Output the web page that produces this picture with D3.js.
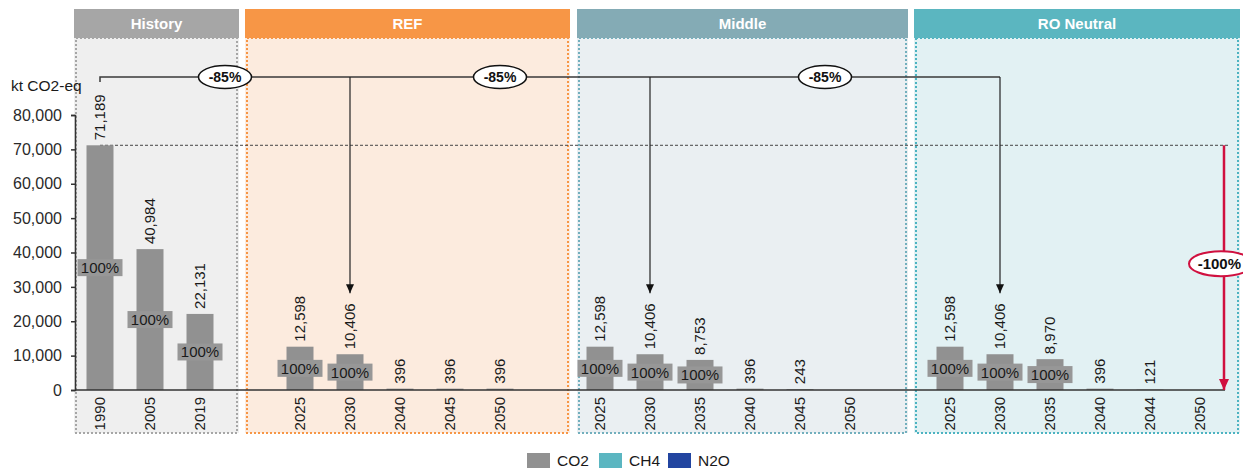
<!DOCTYPE html>
<html>
<head>
<meta charset="utf-8">
<script src="https://cdn.jsdelivr.net/npm/d3@7"></script>
<style>
  body { margin: 0; background: #fff; }
  svg { font-family: "Liberation Sans", Arial, sans-serif; }
</style>
</head>
<body>
<div id="chart"></div>
<script>
// values, kt CO2-eq
var historyYears = ["1990", "2005", "2019"];
var historyValues = [71189, 40984, 22131];
var historyShares = ["100%", "100%", "100%"];

var refYears = ["2025", "2030", "2040", "2045", "2050"];
var refValues = [12598, 10406, 396, 396, 396];
var refShares = ["100%", "100%", "", "", ""];

var middleYears = ["2025", "2030", "2035", "2040", "2045", "2050"];
var middleValues = [12598, 10406, 8753, 396, 243, 0];
var middleShares = ["100%", "100%", "100%", "", "", ""];

var neutralYears = ["2025", "2030", "2035", "2040", "2044", "2050"];
var neutralValues = [12598, 10406, 8970, 396, 121, 0];
var neutralShares = ["100%", "100%", "100%", "", "", ""];

var scenarioNames = ["History", "REF", "Middle", "RO Neutral"];
var yTicks = [0, 10000, 20000, 30000, 40000, 50000, 60000, 70000, 80000];
var yUnit = "kt CO2-eq";
var gasNames = ["CO2", "CH4", "N2O"];
var gasColors = ["#919191", "#5bb6c1", "#2245a0"];

// -85% from 1990 to 2030 in each scenario, -100% from 1990 to 2050
var baseKey = "History|1990";
var reductionTargets = ["REF|2030", "Middle|2030", "RO Neutral|2030"];
var reductionLabel = "-85%";
var totalReductionLabel = "-100%";

var sections = [
  { name: scenarioNames[0], years: historyYears, values: historyValues, shares: historyShares },
  { name: scenarioNames[1], years: refYears, values: refValues, shares: refShares },
  { name: scenarioNames[2], years: middleYears, values: middleValues, shares: middleShares },
  { name: scenarioNames[3], years: neutralYears, values: neutralValues, shares: neutralShares }
];

// panel look
var panelStyle = [
  { head: "#a6a6a6", fill: "#efefef", dot: "#a6a6a6" },
  { head: "#f79646", fill: "#fcebde", dot: "#f79646" },
  { head: "#84abb5", fill: "#eaeff2", dot: "#72afbd" },
  { head: "#5bb6c0", fill: "#e2f1f3", dot: "#4cb3c1" }
];
// panel edges, in category steps from the left of the plot
var panelSpan = [[-0.02, 3.28], [3.4, 9.9], [10.04, 16.66], [16.78, 23.3]];

var W = 1243, H = 470;
var plot = { left: 75, right: 1225, top: 115, bottom: 390 };

var keys = [];
var bars = [];
sections.forEach(function(s, i){
  s.years.forEach(function(yr, j){
    var k = s.name + "|" + yr;
    keys.push(k);
    bars.push({ key: k, year: yr, value: s.values[j], share: s.shares[j] });
  });
  if (i < sections.length - 1) keys.push("gap" + i);
});

var svg = d3.select("#chart").append("svg")
  .attr("width", W)
  .attr("height", H);

var x = d3.scaleBand()
  .domain(keys)
  .range([plot.left, plot.right])
  .paddingInner(0.46)
  .paddingOuter(0.23);

var y = d3.scaleLinear()
  .domain([0, 80000])
  .range([plot.bottom, plot.top]);

var cx = function(k){ return x(k) + x.bandwidth() / 2; };
var step = x.step();

// arrow heads
var defs = svg.append("defs");
defs.append("marker")
  .attr("id", "arrowBlack")
  .attr("markerUnits", "userSpaceOnUse")
  .attr("markerWidth", 10).attr("markerHeight", 10)
  .attr("refX", 9).attr("refY", 4)
  .attr("orient", "auto")
  .append("path").attr("d", "M0,0L9,4L0,8Z").attr("fill", "#111");
defs.append("marker")
  .attr("id", "arrowRed")
  .attr("markerUnits", "userSpaceOnUse")
  .attr("markerWidth", 12).attr("markerHeight", 12)
  .attr("refX", 11).attr("refY", 5)
  .attr("orient", "auto")
  .append("path").attr("d", "M0,0L11,5L0,10Z").attr("fill", "#d0103f");

// Panels
var headTop = 9, headBottom = 38, panelBottom = 433;
sections.forEach(function(s, i){
  var x0 = plot.left + panelSpan[i][0] * step;
  var x1 = plot.left + panelSpan[i][1] * step;
  var st = panelStyle[i];
  svg.append("rect")
    .attr("x", x0).attr("y", headBottom)
    .attr("width", x1 - x0).attr("height", panelBottom - headBottom)
    .attr("fill", st.fill);
  svg.append("rect")
    .attr("x", x0 + 2).attr("y", headBottom)
    .attr("width", x1 - x0 - 4).attr("height", panelBottom - headBottom)
    .attr("fill", "none")
    .attr("stroke", st.dot)
    .attr("stroke-width", 2)
    .attr("stroke-dasharray", "2,2");
  svg.append("rect")
    .attr("x", x0).attr("y", headTop)
    .attr("width", x1 - x0).attr("height", headBottom - headTop)
    .attr("fill", st.head);
  svg.append("text")
    .attr("x", (x0 + x1) / 2).attr("y", (headTop + headBottom) / 2 + 5.5)
    .attr("text-anchor", "middle")
    .attr("fill", "#fff")
    .style("font-size", "15px")
    .style("font-weight", "bold")
    .text(s.name);
});

// 1990 reference level
var baseValue = historyValues[0];
svg.append("line")
  .attr("x1", cx(baseKey)).attr("x2", plot.right + 3)
  .attr("y1", y(baseValue)).attr("y2", y(baseValue))
  .attr("stroke", "#444")
  .attr("stroke-width", 1)
  .attr("stroke-dasharray", "3,2");

// Bars
svg.selectAll(".bar")
  .data(bars)
  .enter().append("rect")
  .attr("class", "bar")
  .attr("x", function(d){ return x(d.key); })
  .attr("width", x.bandwidth())
  .attr("y", function(d){ return y(d.value); })
  .attr("height", function(d){ return y(0) - y(d.value); })
  .attr("fill", gasColors[0]);

// share labels in the middle of the bars
var shareBars = bars.filter(function(d){ return d.share !== ""; });
var shareG = svg.selectAll(".share")
  .data(shareBars)
  .enter().append("g")
  .attr("class", "share")
  .attr("transform", function(d){
    return "translate(" + cx(d.key) + "," + (y(d.value) + y(0)) / 2 + ")";
  });
shareG.append("rect")
  .attr("x", -22.5).attr("y", -8.5)
  .attr("width", 45).attr("height", 17)
  .attr("fill", "#979797");
shareG.append("text")
  .attr("text-anchor", "middle")
  .attr("dy", "0.36em")
  .attr("fill", "#1a1a1a")
  .style("font-size", "15px")
  .text(function(d){ return d.share; });

// value labels
svg.selectAll(".value")
  .data(bars.filter(function(d){ return d.value > 0; }))
  .enter().append("text")
  .attr("class", "value")
  .attr("transform", function(d){
    return "translate(" + cx(d.key) + "," + (y(d.value) - 5) + ")rotate(-90)";
  })
  .attr("dy", "0.36em")
  .attr("fill", "#1a1a1a")
  .style("font-size", "15px")
  .text(function(d){ return d3.format(",")(d.value); });

// Axes
var yAxis = svg.append("g")
  .attr("class", "axis axis--y")
  .attr("transform", "translate(" + plot.left + ",0)")
  .call(d3.axisLeft(y).tickValues(yTicks).tickSize(4).tickPadding(9).tickFormat(d3.format(",")));
yAxis.select(".domain").attr("stroke", "#333").attr("stroke-width", 1.5);
yAxis.selectAll(".tick line").attr("stroke", "#333").attr("stroke-width", 1.5);
yAxis.selectAll("text").attr("fill", "#2a2a2a").style("font-size", "16px")
  .style("font-family", "'Liberation Sans', Arial, sans-serif");

var xAxis = svg.append("g")
  .attr("class", "axis axis--x")
  .attr("transform", "translate(0," + plot.bottom + ")")
  .call(d3.axisBottom(x)
    .tickValues(bars.map(function(d){ return d.key; }))
    .tickSize(0)
    .tickFormat(function(k){ return k.split("|")[1]; }));
xAxis.select(".domain").remove();
xAxis.selectAll("text")
  .attr("transform", "rotate(-90)")
  .attr("x", -7).attr("y", 0)
  .attr("dy", "0.36em")
  .style("text-anchor", "end")
  .attr("fill", "#1a1a1a")
  .style("font-size", "15px")
  .style("font-family", "'Liberation Sans', Arial, sans-serif");

svg.append("line")
  .attr("x1", plot.left).attr("x2", plot.right)
  .attr("y1", y(0)).attr("y2", y(0))
  .attr("stroke", "#333")
  .attr("stroke-width", 1.5);

svg.append("text")
  .attr("x", 11).attr("y", 91)
  .attr("fill", "#1a1a1a")
  .style("font-size", "15.5px")
  .text(yUnit);

// -85% brackets
var bracketY = 77;
var lastTarget = reductionTargets[reductionTargets.length - 1];
svg.append("path")
  .attr("d", "M" + cx(baseKey) + "," + (bracketY + 5) + "V" + bracketY + "H" + cx(lastTarget))
  .attr("fill", "none")
  .attr("stroke", "#3a3a3a")
  .attr("stroke-width", 1.5);

reductionTargets.forEach(function(k){
  var v = bars.filter(function(d){ return d.key === k; })[0].value;
  svg.append("line")
    .attr("x1", cx(k)).attr("x2", cx(k))
    .attr("y1", bracketY).attr("y2", y(v) - 61)
    .attr("stroke", "#222")
    .attr("stroke-width", 1.2)
    .attr("marker-end", "url(#arrowBlack)");
});

var badgeX = [
  cx("History|2019") + step / 2,
  cx("REF|2050"),
  cx("Middle|2045") + step / 2
];
badgeX.forEach(function(bx){
  svg.append("ellipse")
    .attr("cx", bx).attr("cy", bracketY)
    .attr("rx", 26.5).attr("ry", 11.5)
    .attr("fill", "#fff")
    .attr("stroke", "#111")
    .attr("stroke-width", 1.5);
  svg.append("text")
    .attr("x", bx).attr("y", bracketY)
    .attr("dy", "0.36em")
    .attr("text-anchor", "middle")
    .attr("fill", "#111")
    .style("font-size", "14px")
    .style("font-weight", "bold")
    .text(reductionLabel);
});

// -100% arrow
var redX = plot.right - 1;
svg.append("line")
  .attr("x1", redX).attr("x2", redX)
  .attr("y1", y(baseValue)).attr("y2", y(0))
  .attr("stroke", "#d0103f")
  .attr("stroke-width", 2.5)
  .attr("marker-end", "url(#arrowRed)");
var redMid = (y(baseValue) + y(0)) / 2 - 4;
svg.append("ellipse")
  .attr("cx", redX - 3).attr("cy", redMid)
  .attr("rx", 32).attr("ry", 12.5)
  .attr("fill", "#fff")
  .attr("stroke", "#d0103f")
  .attr("stroke-width", 2);
svg.append("text")
  .attr("x", W - 2).attr("y", redMid)
  .attr("dy", "0.36em")
  .attr("text-anchor", "end")
  .attr("fill", "#111")
  .style("font-size", "15px")
  .style("font-weight", "bold")
  .text(totalReductionLabel);

// Legend
var legend = svg.append("g").attr("transform", "translate(527,453)");
var legendX = [0, 72, 141];
gasNames.forEach(function(g, i){
  var item = legend.append("g").attr("transform", "translate(" + legendX[i] + ",0)");
  item.append("rect")
    .attr("width", 23).attr("height", 15)
    .attr("fill", gasColors[i]);
  item.append("text")
    .attr("x", 30).attr("y", 7.5)
    .attr("dy", "0.36em")
    .attr("fill", "#1a1a1a")
    .style("font-size", "15.5px")
    .text(g);
});
</script>
</body>
</html>
